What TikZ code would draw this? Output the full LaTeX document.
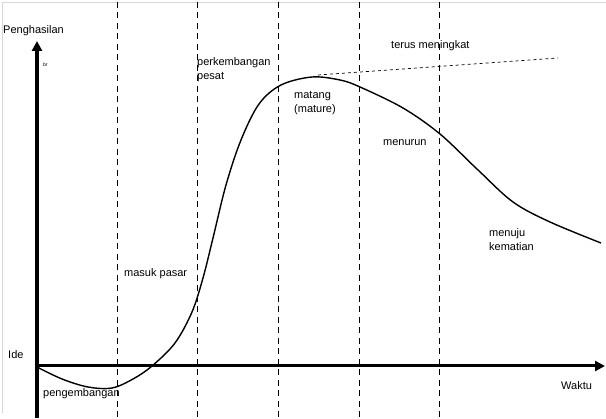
\documentclass[tikz,border=0pt]{standalone}
\usepackage{fontspec}
\setmainfont{Liberation Sans}
\usetikzlibrary{arrows.meta}
\definecolor{framegray}{RGB}{215,215,215}

\begin{document}
\begin{tikzpicture}[x=1pt,y=-1pt,
  lbl/.style={anchor=west, inner sep=0pt, align=left, font=\fontsize{11}{14}\selectfont},
  guide/.style={dash pattern=on 6pt off 4.5pt, line width=0.8pt},
  axis/.style={line width=3.5pt, -{Triangle[length=10pt,width=10pt]}},
  trend/.style={dash pattern=on 3pt off 3pt, line width=0.7pt}
]
\useasboundingbox (0,0) rectangle (606,419);

%% frame
\draw[framegray] (2,2) -- (606,2);
\draw[framegray] (2,2) -- (2,413);

%% phase boundaries
\foreach \x in {117,197,278,359,439}{
  \draw[guide] (\x,2) -- (\x,419);
}

%% axes
\coordinate (ybot) at (37,418);
\coordinate (ytop) at (37,41);
\coordinate (origin) at (37,366);
\coordinate (xend) at (605,366);
\draw[axis] (ybot) -- (ytop);
\draw[axis, line width=3pt] (origin) -- (xend);

%% life cycle curve
\draw[line width=1.4pt, line join=round] plot[smooth, tension=0.55] coordinates {
  (37,367) (62,379) (88,387) (112,388) (133,379) (152,366) (175,343)
  (192,312) (203,278) (213,238) (226,185) (241,140) (259,104)
  (281,85) (312,77) (340,80) (360,87) (403,108) (440,134) (478,170)
  (513,202) (550,222) (601,243)};

%% growth continues
\coordinate (peak) at (318,75);
\coordinate (trendend) at (558,58);
\draw[trend] (peak) -- (trendend);

%% texts
\node[lbl] (yname) at (3,31) {Penghasilan};
\node[lbl, font=\fontsize{5}{6}\selectfont] (br) at (43,65) {br};
\node[lbl] (ide) at (8,355) {Ide};
\node[lbl] (dev) at (43,394) {pengembangan};
\node[lbl] (intro) at (124,274) {masuk pasar};
\node[lbl] (growth) at (197,69.5) {perkembangan\\pesat};
\node[lbl] (mature) at (294,103) {matang\\(mature)};
\node[lbl] (rise) at (391,46) {terus meningkat};
\node[lbl] (decline) at (383,143) {menurun};
\node[lbl] (death) at (489,239.5) {menuju\\kematian};
\node[lbl] (xname) at (561,386) {Waktu};
\end{tikzpicture}
\end{document}
